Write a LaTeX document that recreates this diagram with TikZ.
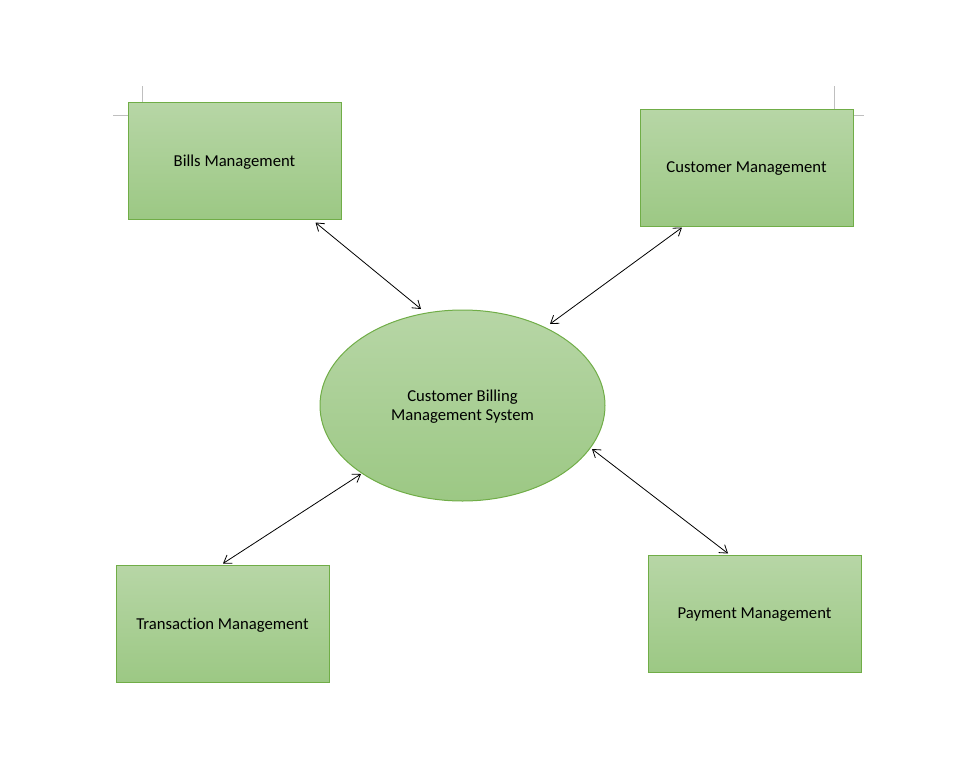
\documentclass[tikz,border=0pt]{standalone}
\usepackage{fontspec}
\setmainfont[Ligatures=NoCommon]{Carlito}
\usetikzlibrary{shapes.geometric, arrows.meta}

\definecolor{boxtop}{RGB}{183,214,166}
\definecolor{boxbot}{RGB}{156,200,132}
\definecolor{boxline}{RGB}{112,173,71}
\definecolor{markgray}{RGB}{191,191,191}

\begin{document}
\begin{tikzpicture}[x=0.75pt, y=-0.75pt,
    module/.style={draw=boxline, line width=0.75pt, top color=boxtop, bottom color=boxbot,
        minimum width=213*0.75pt, minimum height=117*0.75pt, inner sep=0pt, text depth=0pt,
        font=\fontsize{12.5}{14.3}\selectfont},
    core/.style={module, ellipse, minimum width=285*0.75pt, minimum height=191*0.75pt,
        align=center},
    link/.style={{Straight Barb[length=5.5pt,width=7.5pt]}-{Straight Barb[length=5.5pt,width=7.5pt]},
        line width=0.6pt}]
    \useasboundingbox (0,0) rectangle (968,757);

    % Page corner marks
    \draw[markgray, line width=0.75pt] (142,86) -- (142,115) -- (113,115);
    \draw[markgray, line width=0.75pt] (834,86) -- (834,115) -- (864,115);

    % Define nodes for the modules
    \node (bills) [module] at (234.5,160.5) {Bills Management};
    \node (cust) [module] at (746.5,167.5) {Customer Management};
    \node (trans) [module] at (222.5,623.5) {Transaction Management};
    \node (pay) [module] at (754.5,613.5) {Payment Management};

    % Central system
    \node (sys) [core] at (462.5,405.5) {Customer Billing\\Management System};

    % Draw two-way links between modules and the system
    \draw[link] ([shift={(-26,3)}]bills.south east) -- ([shift={(-41.5,-96.5)}]sys.center);
    \draw[link] ([shift={(-64.5,1)}]cust.south) -- ([shift={(87.5,-81.5)}]sys.center);
    \draw[link] ([shift={(0.5,-1)}]trans.north) -- ([shift={(-101.5,68.5)}]sys.center);
    \draw[link] ([shift={(-26.5,-1)}]pay.north) -- ([shift={(129.5,43.5)}]sys.center);

\end{tikzpicture}
\end{document}
